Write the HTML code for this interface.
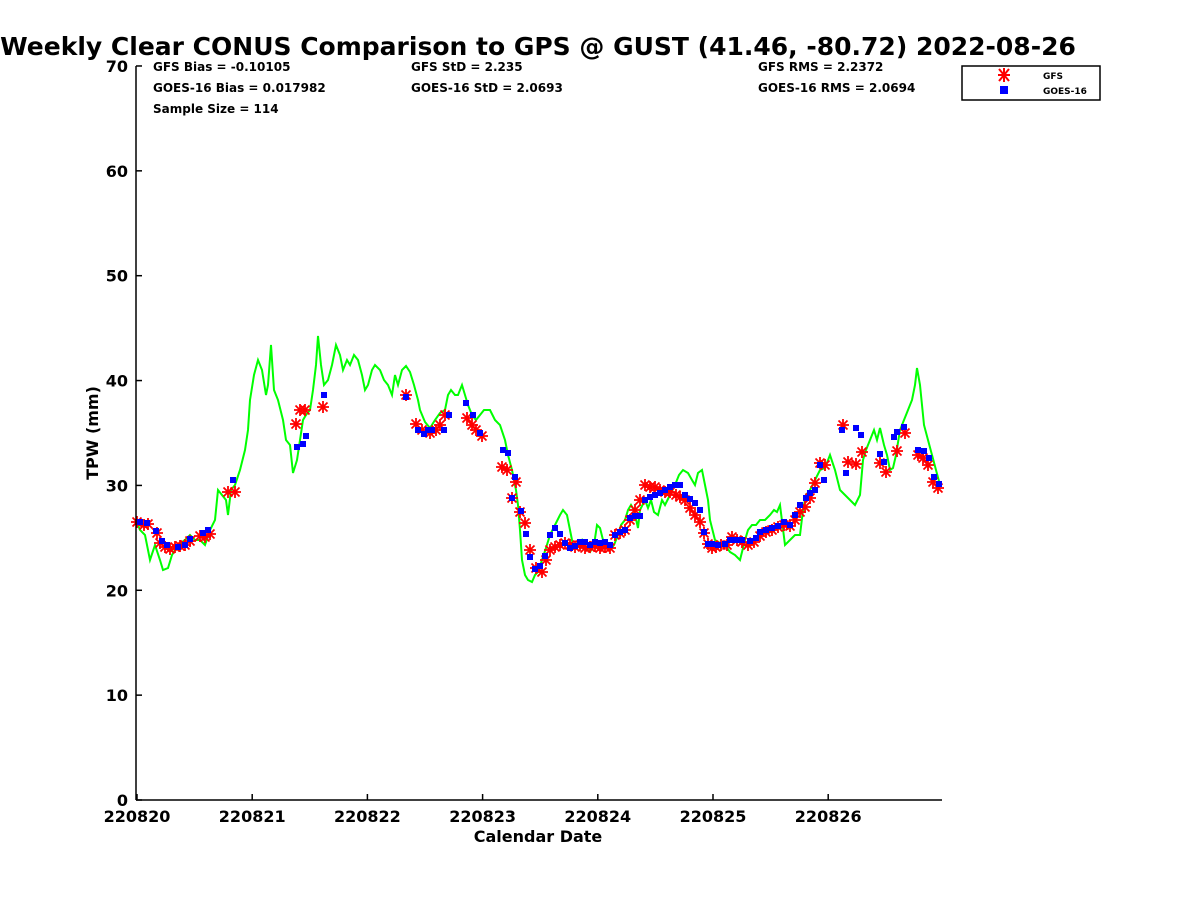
<!DOCTYPE html>
<html><head><meta charset="utf-8"><style>body{margin:0;background:#fff}svg{display:block}text{font-family:"DejaVu Sans","Liberation Sans",sans-serif;font-weight:bold}</style></head><body>
<svg id="s" width="1200" height="900" xmlns="http://www.w3.org/2000/svg">
<text x="538" y="55" font-size="25" text-anchor="middle">Weekly Clear CONUS Comparison to GPS @ GUST (41.46, -80.72) 2022-08-26</text>
<g font-size="12"><text x="153" y="71">GFS Bias = -0.10105</text><text x="153" y="92">GOES-16 Bias = 0.017982</text><text x="153" y="113">Sample Size = 114</text>
<text x="411" y="71">GFS StD = 2.235</text><text x="411" y="92">GOES-16 StD = 2.0693</text>
<text x="758" y="71">GFS RMS = 2.2372</text><text x="758" y="92">GOES-16 RMS = 2.0694</text></g>
<rect x="962" y="66" width="138" height="34" fill="#fff" stroke="#000" stroke-width="1.5"/>
<text x="1043" y="79" font-size="9">GFS</text><text x="1043" y="94" font-size="9">GOES-16</text>
<g stroke="#ff0000" stroke-width="2" id="leg"><line x1="999" y1="69" x2="1009" y2="81"/><line x1="999" y1="81" x2="1009" y2="69"/><line x1="1004" y1="68" x2="1004" y2="82"/><line x1="998" y1="75" x2="1010" y2="75"/></g>
<rect x="1000" y="86" width="8" height="8" fill="#0000ff"/>
<g id="plot"></g>
<g stroke="#000" stroke-width="1.5" fill="none"><line x1="136" y1="66" x2="136" y2="800"/><line x1="136" y1="800" x2="942" y2="800"/></g>
<g id="ticks" font-size="16"></g>
<text x="538" y="842" font-size="16" text-anchor="middle">Calendar Date</text>
<text transform="translate(98,433) rotate(-90)" font-size="16" text-anchor="middle">TPW (mm)</text>
</svg>
<script>
var NS="http://www.w3.org/2000/svg",P=document.getElementById("plot"),T=document.getElementById("ticks");
function el(n,a,p){var e=document.createElementNS(NS,n);for(var k in a)e.setAttribute(k,a[k]);(p||P).appendChild(e);return e}
for(var i=0;i<=7;i++){var y=800-i*104.86;el("line",{x1:136,y1:y,x2:142,y2:y,stroke:"#000","stroke-width":1.5},T);var t=el("text",{x:128,y:y+6,"text-anchor":"end"},T);t.textContent=i*10}
var days=["220820","220821","220822","220823","220824","220825","220826"];
for(var i=0;i<7;i++){var x=137+i*115.2;el("line",{x1:x,y1:800,x2:x,y2:794,stroke:"#000","stroke-width":1.5},T);var t=el("text",{x:x,y:822,"text-anchor":"middle"},T);t.textContent=days[i]}
var g=[136,520,140,530,145,535,150,560,155,545,160,560,163,570,168,568,172,555,178,545,185,540,190,535,195,540,200,540,205,545,210,530,215,520,218,490,222,495,226,500,228,515,231,490,235,485,240,470,245,450,248,430,250,400,254,375,258,360,262,370,266,395,268,385,271,345,274,390,278,400,283,420,286,440,290,445,293,473,297,460,300,440,303,420,306,415,310,410,313,390,316,365,318,336,321,365,324,385,328,380,332,365,336,345,340,355,343,370,347,360,350,365,354,355,358,360,362,375,365,390,368,385,372,370,375,365,380,370,384,380,388,385,392,395,395,375,398,385,402,370,406,366,410,372,414,385,418,400,420,410,425,422,430,428,435,420,440,413,445,410,448,395,451,390,455,395,458,395,462,385,465,395,468,405,472,415,476,420,480,415,484,410,490,410,495,420,500,425,505,440,508,455,512,470,516,490,518,505,520,530,522,560,525,575,528,580,532,582,535,575,538,572,542,560,546,548,550,535,555,525,560,515,563,510,567,515,570,530,573,545,578,545,582,540,585,548,590,552,594,545,597,525,600,528,603,540,606,548,610,550,614,545,618,535,621,525,625,520,628,510,631,505,634,510,638,528,640,510,645,500,648,508,651,500,654,512,658,515,662,500,665,505,670,495,675,485,679,475,683,470,688,473,692,480,695,485,698,473,702,470,705,485,708,500,710,520,715,540,720,543,725,545,730,552,735,555,740,560,745,540,748,530,752,525,756,525,760,520,765,520,770,515,774,510,777,512,780,505,785,545,790,540,795,535,800,535,803,510,806,495,810,490,815,480,820,470,825,468,830,455,835,470,840,490,845,495,850,500,855,505,860,495,863,460,866,450,870,440,874,430,877,440,880,428,884,445,887,455,890,470,893,468,896,455,900,430,904,420,908,410,912,400,915,385,917,368,920,385,924,425,928,440,932,455,936,470,940,485];
var pts=[];for(var i=0;i<g.length;i+=2)pts.push(g[i]+","+g[i+1]);
el("polyline",{points:pts.join(" "),fill:"none",stroke:"#00ff00","stroke-width":2});
var b=[140,522,147,523,156,531,162,541,167,545,178,547,185,545,190,539,203,533,208,530,233,480,297,447,303,444,306,436,324,395,406,397,418,430,424,434,428,430,432,430,444,430,449,415,466,403,473,415,480,433,503,450,508,453,512,498,515,477,521,511,526,534,530,557,535,569,540,566,545,556,550,535,555,528,560,534,565,543,570,548,575,546,580,542,585,542,590,545,595,542,600,543,605,542,610,545,615,535,620,532,625,530,630,518,635,516,640,516,645,500,650,497,655,495,660,493,665,490,670,487,675,485,680,485,685,495,690,499,695,503,700,510,704,532,708,544,712,544,718,545,725,544,730,540,736,540,742,540,750,541,756,538,760,532,766,530,772,528,778,526,784,522,790,525,795,515,800,505,806,498,810,493,815,490,820,465,824,480,842,430,846,473,856,428,861,435,880,454,884,462,894,437,897,432,904,427,918,450,924,451,929,458,934,477,939,484];
var r=[137,522,144,525,148,524,157,533,160,543,165,547,170,549,175,547,180,546,185,545,190,541,200,536,205,537,210,534,228,492,235,492,296,424,300,410,305,410,323,407,406,395,416,424,422,430,430,433,436,430,440,425,445,415,467,418,472,425,476,430,482,436,502,467,507,470,512,498,516,482,520,512,525,523,530,550,536,568,542,572,546,560,550,550,555,547,560,545,565,543,570,545,575,547,580,545,585,548,590,547,595,546,600,548,605,547,610,548,615,535,620,533,625,530,630,520,635,510,640,500,645,485,650,487,655,487,660,490,665,492,670,492,676,495,680,497,685,500,690,508,695,515,700,522,704,533,708,544,712,548,716,547,721,545,727,545,732,537,737,540,742,542,748,545,754,542,760,536,766,532,772,530,778,527,784,525,790,526,795,520,800,512,805,507,810,498,815,483,820,463,825,465,843,425,848,462,856,464,862,452,880,463,886,472,897,451,905,433,918,455,923,458,928,465,933,482,938,488];
for(var i=0;i<r.length;i+=2){var x=r[i],y=r[i+1],d=4.5;el("path",{d:"M"+(x-d)+" "+(y-d)+"L"+(x+d)+" "+(y+d)+"M"+(x-d)+" "+(y+d)+"L"+(x+d)+" "+(y-d)+"M"+x+" "+(y-6)+"V"+(y+6)+"M"+(x-6)+" "+y+"H"+(x+6),stroke:"#ff0000","stroke-width":1.8})}
for(var i=0;i<b.length;i+=2)el("rect",{x:b[i]-3,y:b[i+1]-3,width:6,height:6,fill:"#0000ff"});
</script>
</body></html>
